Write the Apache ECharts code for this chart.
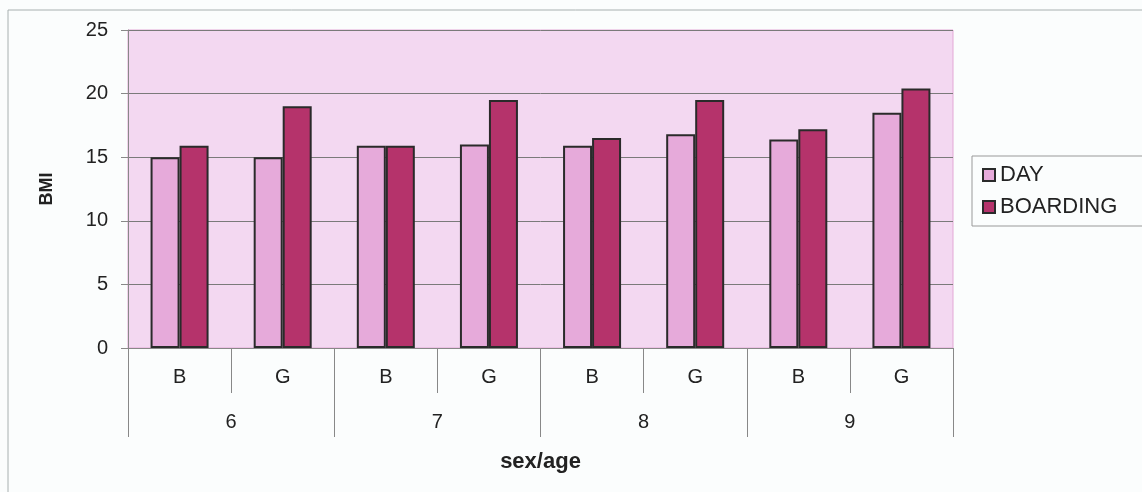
<!DOCTYPE html>
<html>
<head>
<meta charset="utf-8">
<script src="https://cdn.jsdelivr.net/npm/echarts@6/dist/echarts.min.js"></script>
<style>
  html, body { margin: 0; padding: 0; background: #fbfdfd; }
  #main { width: 1142px; height: 492px; }
</style>
</head>
<body>
<div id="main"></div>
<script>
// data
var sexLabels = ['B', 'G', 'B', 'G', 'B', 'G', 'B', 'G'];
var ageLabels = ['6', '7', '8', '9'];
var dayData = [15.0, 15.0, 15.9, 16.0, 15.9, 16.8, 16.4, 18.5];
var boardingData = [15.9, 19.0, 15.9, 19.5, 16.5, 19.5, 17.2, 20.4];
var yTicks = [0, 5, 10, 15, 20, 25];

var chart = echarts.init(document.getElementById('main'));
var font = 'Liberation Sans, Arial, sans-serif';

var option = {
  backgroundColor: '#fbfdfd',
  textStyle: { fontFamily: font },
  graphic: [{
    type: 'rect',
    shape: { x: 8, y: 10, width: 1150, height: 500 },
    style: { fill: null, stroke: '#a8b0b0', lineWidth: 1 },
    z: -1
  }],
  grid: {
    left: 128, right: 189, top: 30, bottom: 144,
    show: true,
    backgroundColor: '#f3d8f1',
    borderColor: '#e3a9d6',
    borderWidth: 1
  },
  legend: {
    orient: 'vertical',
    left: 972, top: 156,
    data: ['DAY', 'BOARDING'],
    icon: 'rect',
    itemWidth: 12, itemHeight: 12,
    itemGap: 10,
    padding: [8, 30, 8, 10],
    borderColor: '#999999',
    borderWidth: 1,
    textStyle: { fontFamily: font, fontSize: 22, color: '#222222' }
  },
  xAxis: [{
    type: 'category',
    data: sexLabels,
    position: 'bottom',
    name: 'sex/age',
    nameLocation: 'middle',
    nameGap: 103,
    nameTextStyle: { fontFamily: font, fontSize: 22, fontWeight: 'bold', color: '#222222' },
    axisLine: { lineStyle: { color: '#888888', width: 1 } },
    axisTick: { show: true, interval: 0, length: 45, lineStyle: { color: '#888888' } },
    axisLabel: { interval: 0, margin: 19, fontSize: 20, color: '#222222', fontFamily: font }
  }, {
    type: 'category',
    data: ageLabels,
    position: 'bottom',
    axisLine: { show: false },
    axisTick: { show: true, interval: 0, length: 89, lineStyle: { color: '#888888' } },
    axisLabel: { interval: 0, margin: 64, fontSize: 20, color: '#222222', fontFamily: font }
  }],
  yAxis: {
    type: 'value',
    min: 0, max: 25, interval: 5,
    name: 'BMI',
    nameLocation: 'middle',
    nameGap: 72,
    nameTextStyle: { fontFamily: font, fontSize: 18, fontWeight: 'bold', color: '#222222' },
    axisLine: { show: true, lineStyle: { color: '#888888' } },
    axisTick: { show: true, length: 7, lineStyle: { color: '#888888' } },
    axisLabel: {
      margin: 20, fontSize: 20, color: '#222222', fontFamily: font,
      formatter: function (v) { return yTicks.indexOf(v) >= 0 ? String(v) : ''; }
    },
    splitLine: { lineStyle: { color: '#7a7a7a', width: 1 } }
  },
  series: [{
    name: 'DAY',
    type: 'bar',
    xAxisIndex: 0,
    data: dayData,
    barWidth: 29,
    barGap: '0%',
    itemStyle: { color: '#e6aada', borderColor: '#2a2a2a', borderWidth: 2 }
  }, {
    name: 'BOARDING',
    type: 'bar',
    xAxisIndex: 0,
    data: boardingData,
    barWidth: 29,
    barGap: '0%',
    itemStyle: { color: '#b5336b', borderColor: '#2a2a2a', borderWidth: 2 }
  }]
};

chart.setOption(option);
</script>
</body>
</html>
